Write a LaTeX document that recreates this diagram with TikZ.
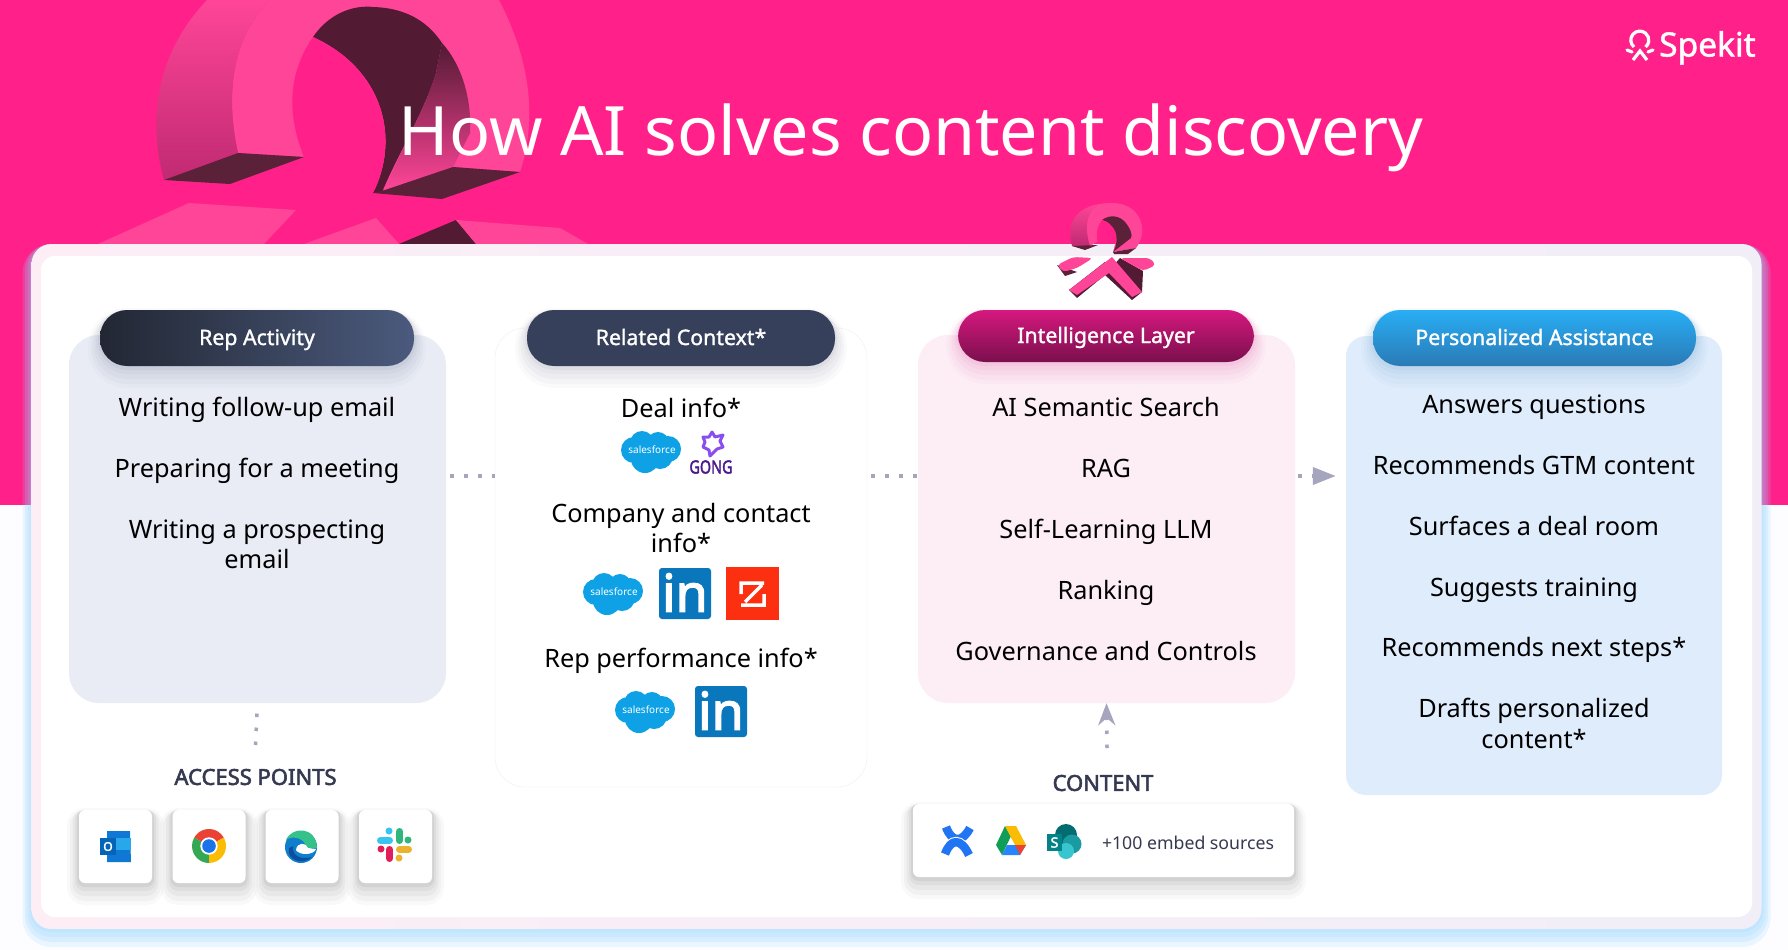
\documentclass[tikz,border=0pt]{standalone}
\usepackage{fontspec}
\setmainfont{Noto Sans}
\newfontfamily\medfont[FakeBold=1.4]{Noto Sans}
\newfontfamily\boldfam[FakeBold=2.6]{Noto Sans}
\usetikzlibrary{arrows.meta}

\definecolor{pagepink}{HTML}{FF2189}
\definecolor{logofront}{HTML}{FF4598}
\definecolor{logoshade}{HTML}{C02A72}
\definecolor{logodark}{HTML}{5A2139}
\definecolor{logoinner}{HTML}{521A33}
\definecolor{dotgray}{HTML}{A5A5BE}
\definecolor{labelgray}{HTML}{353A50}
\definecolor{sfblue}{HTML}{0EA1E5}
\definecolor{liblue}{HTML}{0A77BD}
\definecolor{pageback}{HTML}{FDFDFF}
\definecolor{cardleft}{HTML}{FDEEF6}
\definecolor{cardright}{HTML}{F1EEF8}
\definecolor{glowblue}{HTML}{8FD3FF}
\definecolor{repfill}{HTML}{E9ECF5}
\definecolor{relatedline}{HTML}{EEEEF6}
\definecolor{intelfill}{HTML}{FDEEF5}
\definecolor{assistfill}{HTML}{DFECFC}
\definecolor{repleft}{HTML}{222733}
\definecolor{repright}{HTML}{4B5A7D}
\definecolor{relatedfill}{HTML}{36405A}
\definecolor{inteltop}{HTML}{D6187F}
\definecolor{intelbottom}{HTML}{7A0F4C}
\definecolor{assisttop}{HTML}{29AEF5}
\definecolor{assistbottom}{HTML}{2A7AB5}
\definecolor{pillshade}{HTML}{3C466E}
\definecolor{gonglight}{HTML}{8A4DF0}
\definecolor{gongdark}{HTML}{4B1A8C}
\definecolor{zoomred}{HTML}{FC3010}
\definecolor{outlookback}{HTML}{0F78D4}
\definecolor{outlooklight}{HTML}{28A8EA}
\definecolor{outlookfront}{HTML}{0364B8}
\definecolor{chromered}{HTML}{EA4335}
\definecolor{chromegreen}{HTML}{34A853}
\definecolor{chromeyellow}{HTML}{FBBC05}
\definecolor{chromeblue}{HTML}{1A73E8}
\definecolor{edgeblue}{HTML}{0F7ECB}
\definecolor{edgegreen}{HTML}{35C18A}
\definecolor{edgedark}{HTML}{0B4F9E}
\definecolor{slackblue}{HTML}{36C5F0}
\definecolor{slackgreen}{HTML}{2EB67D}
\definecolor{slackyellow}{HTML}{ECB22E}
\definecolor{slackred}{HTML}{E01E5A}
\definecolor{conflblue}{HTML}{2175F3}
\definecolor{drivegreen}{HTML}{0F9D58}
\definecolor{driveblue}{HTML}{2684FC}
\definecolor{spdark}{HTML}{036C70}
\definecolor{spmid}{HTML}{1A9BA1}
\definecolor{splight}{HTML}{37C6D0}
\definecolor{spfront}{HTML}{038387}

\tikzset{
  softshadow/.style={
    preaction={draw=#1,draw opacity=.025,line width=24pt,transform canvas={yshift=-10pt}},
    preaction={draw=#1,draw opacity=.03,line width=18pt,transform canvas={yshift=-9pt}},
    preaction={draw=#1,draw opacity=.035,line width=13pt,transform canvas={yshift=-6.5pt}},
    preaction={draw=#1,draw opacity=.04,line width=8pt,transform canvas={yshift=-4pt}},
    preaction={draw=#1,draw opacity=.05,line width=4pt,transform canvas={yshift=-2pt}}},
  cardglow/.style={
    preaction={draw=#1,draw opacity=.18,line width=18pt,transform canvas={yshift=-9pt}},
    preaction={draw=#1,draw opacity=.18,line width=13pt,transform canvas={yshift=-6.5pt}},
    preaction={draw=#1,draw opacity=.18,line width=8pt,transform canvas={yshift=-4pt}},
    preaction={draw=#1,draw opacity=.18,line width=3pt,transform canvas={yshift=-1.5pt}}},
  panel/.style={inner sep=0pt,rounded corners=30pt},
  pill/.style={inner sep=0pt,rounded corners=27pt,text=white,text height=17pt,text depth=3pt,
    font=\fontsize{21.3}{24}\selectfont\medfont},
  item/.style={anchor=base,inner sep=0pt,text=black,font=\fontsize{25.3}{30}\selectfont},
  caption/.style={inner sep=0pt,text=labelgray,font=\fontsize{22}{24}\selectfont\boldfam},
  iconcard/.style={inner sep=0pt,fill=white,rounded corners=6pt,minimum width=73pt,minimum height=73pt,softshadow=black},
  dotline/.style={draw=dotgray,line width=3.5pt,dash pattern=on 3.5pt off 10.5pt},
  salescloud/.pic={
    \fill[sfblue] (-17,-2) circle (13) (-9,-9) circle (12) (7,-9) circle (11) (17,-3) circle (13)
      (-6,7) circle (14) (9,4) circle (13);
    \node[inner sep=0pt,text=white,font=\fontsize{10}{12}\selectfont] (word) at (1,-2) {salesforce};
  },
  linkedin/.pic={
    \fill[liblue,rounded corners=3pt] (-26,-25.5) rectangle (26,25.5);
    \node[inner sep=0pt,text=white,font=\fontsize{52}{52}\selectfont\boldfam] (word) at (0,-1) {in};
  }
}

\begin{document}
\begin{tikzpicture}[x=1pt,y=-1pt]
\useasboundingbox (0,0) rectangle (1788,950);

% page
\fill[pageback] (0,0) rectangle (1788,950);
\fill[pagepink] (0,0) rectangle (1788,505);

% big logo behind the title
\fill[logofront] (238,153) .. controls (222,80) and (240,30) .. (270,0) -- (499,0)
  .. controls (525,50) and (540,110) .. (520,172) -- (453,167) -- (385,190) -- (304,157) -- cycle;
\shade[top color=logofront,middle color=logofront,bottom color=logoshade] (164,180) .. controls (150,130) and (150,60) .. (207,0)
  -- (270,0) .. controls (240,30) and (222,80) .. (238,153) -- cycle;
\fill[logoinner] (313,37) .. controls (330,12) and (355,5) .. (373,7) .. controls (410,8) and (430,25) .. (442,43)
  -- (436,73) .. controls (425,110) and (400,150) .. (382,192) -- (373,193) .. controls (400,140) and (385,70) .. (313,37);
\shade[top color=logoinner,middle color=logofront,bottom color=logofront] (442,43) .. controls (462,65) and (472,100) .. (470,133)
  -- (453,167) -- (385,190) .. controls (400,150) and (425,110) .. (436,73) -- cycle;
\fill[pagepink] (313,37) .. controls (385,70) and (400,140) .. (373,193) -- (304,157) .. controls (285,110) and (290,70) .. (313,37);
\fill[logodark] (164,180) -- (238,153) -- (304,157) -- (230,184) -- cycle;
\fill[logodark] (385,190) -- (453,167) -- (520,172) -- (442,199) -- (373,193) -- cycle;
\fill[logofront] (98,244) -- (189,203) -- (296,210) -- (264,244) -- cycle;
\fill[logofront] (304,244) -- (376,218) -- (399,244) -- cycle;
\fill[logoinner] (399,244) -- (456,220) -- (476,244) -- cycle;
\fill[logofront] (456,220) -- (560,228) -- (588,244) -- (476,244) -- cycle;

% card
\node[inner sep=0pt,rounded corners=20pt,minimum width=1730pt,minimum height=685pt,
  left color=cardleft,right color=cardright,cardglow=glowblue] (card) at (896.5,586.5) {};
\node[inner sep=0pt,rounded corners=14pt,minimum width=1711pt,minimum height=661pt,fill=white] (inner) at (896.5,586.5) {};

% panels
\node[panel,fill=repfill,minimum width=377pt,minimum height=368pt] (rep) at (257.5,519) {};
\node[panel,fill=white,draw=relatedline,minimum width=372pt,minimum height=459pt] (related) at (681,557.5) {};
\node[panel,fill=intelfill,minimum width=377pt,minimum height=368pt] (intel) at (1106.5,519) {};
\node[panel,fill=assistfill,rounded corners=20pt,minimum width=376pt,minimum height=459pt] (assist) at (1534,565.5) {};

% pills
\node[pill,minimum width=314pt,minimum height=56pt,left color=repleft,right color=repright,softshadow=pillshade] (reppill) at (257,338) {Rep Activity};
\node[pill,minimum width=308pt,minimum height=56pt,fill=relatedfill,softshadow=pillshade] (relatedpill) at (681,338) {Related Context*};
\node[pill,minimum width=296pt,minimum height=52pt,top color=inteltop,bottom color=intelbottom,softshadow=inteltop] (intelpill) at (1106,336) {Intelligence Layer};
\node[pill,minimum width=323pt,minimum height=56pt,top color=assisttop,bottom color=assistbottom,softshadow=assistbottom] (assistpill) at (1534.5,338) {Personalized Assistance};

% small logo over the card
\shade[top color=logofront,bottom color=logoshade] (1072,246) .. controls (1064,215) and (1085,203) .. (1112,203)
  -- (1112,220) -- (1090,246) -- cycle;
\fill[logofront] (1090,246) .. controls (1082,220) and (1090,203) .. (1112,203) .. controls (1140,203) and (1150,230) .. (1136,248)
  -- (1113,252) -- (1100,240) -- cycle;
\fill[logodark] (1102,220) .. controls (1110,214) and (1120,216) .. (1125,222) .. controls (1130,228) and (1133,235) .. (1131,238)
  -- (1113,252) .. controls (1122,238) and (1112,222) .. (1102,220);
\fill[pagepink] (1102,220) .. controls (1112,222) and (1120,235) .. (1115,244) -- (1098,244) .. controls (1096,235) and (1096,228) .. (1102,220);
\fill[cardright] (1098,244) -- (1115,244) -- (1113,252) -- (1095,250) -- cycle;
\fill[logodark] (1072,246) -- (1098,245) -- (1085,250) -- cycle;
\fill[logodark] (1113,252) -- (1136,248) -- (1128,254) -- (1114,254) -- cycle;
\fill[logodark] (1057,265) -- (1077,272) -- (1065,276) -- cycle;
\fill[logoinner] (1120,258) -- (1143,271) -- (1142,292) -- (1132,300) -- (1105,275) -- cycle;
\fill[logofront,rounded corners=4pt] (1057,265) -- (1073,257) -- (1093,258) -- (1077,268) -- (1063,272) -- cycle;
\fill[logofront,rounded corners=4pt] (1120,258) -- (1150,258) -- (1156,265) -- (1143,271) -- cycle;
\fill[logoinner] (1069,290) -- (1105,262) -- (1105,275) -- (1077,298) -- cycle;
\fill[logofront] (1112,257) -- (1142,292) -- (1132,297) -- (1109,273) -- (1077,295) -- (1069,290) -- cycle;

% title and brand
\node[anchor=base,inner sep=0pt,text=white,font=\fontsize{68.1}{72}\selectfont] (title) at (911,155) {How AI solves content discovery};
\node[anchor=base west,inner sep=0pt,text=white,font=\fontsize{33.5}{36}\selectfont\medfont] (brand) at (1659,56.5) {Spekit};
\draw[white,line width=3.2pt] (1634,47) arc (130:410:9);
\draw[white,line width=3.2pt] (1633,60) -- (1640,51) -- (1647,60);
\draw[white,line width=3.2pt,line cap=round] (1627,50) -- (1632,52) (1648,52) -- (1653,50);

% panel texts
\foreach \i/\y/\t in {1/416/Writing follow-up email,2/477/Preparing for a meeting,3/538/Writing a prospecting,4/568/email}
    \node[item] (rep\i) at (257,\y) {\t};
\foreach \i/\y/\t in {1/417/Deal info*,2/522/Company and contact,3/552/info*,4/667/Rep performance info*}
    \node[item] (related\i) at (681,\y) {\t};
\foreach \i/\y/\t in {1/416/AI Semantic Search,2/477/RAG,3/538/Self-Learning LLM,4/599/Ranking,5/660/Governance and Controls}
    \node[item] (intel\i) at (1106,\y) {\t};
\foreach \i/\y/\t in {1/413/Answers questions,2/474/Recommends GTM content,3/535/Surfaces a deal room,4/596/Suggests training,5/656/Recommends next steps*,6/717/Drafts personalized,7/748/content*}
    \node[item] (assist\i) at (1534,\y) {\t};

% related context logos
\pic (sfa) at (651,452) {salescloud};
\pic (sfb) at (613,594) {salescloud};
\pic (sfc) at (645,712) {salescloud};
\pic (lia) at (685,593.5) {linkedin};
\pic (lib) at (721,711.5) {linkedin};
\draw[gonglight,line width=3pt,line join=round] (703,437) -- (709,437) -- (712,432) -- (715,437) -- (723,435) -- (720,441)
  -- (723,447) -- (717,449) -- (710,456) -- (709,450) -- (703,447) -- (705,442) -- cycle;
\node[inner sep=0pt,text=gongdark,xscale=.8,font=\fontsize{18}{18}\selectfont\boldfam] (gong) at (711,467) {GONG};
\fill[zoomred] (726,567) rectangle (779,620);
\draw[white,line width=3.5pt] (741,594) -- (741,583) -- (764,583) (764,594) -- (764,605) -- (741,605) (745,602) -- (762,585);

% bottom labels
\node[caption] (access) at (255.5,777) {ACCESS POINTS};
\node[caption] (content) at (1103,783) {CONTENT};

% icon cards
\foreach \i/\x in {1/115.5,2/209,3/302,4/395.5}
    \node[iconcard] (icon\i) at (\x,846.5) {};
\node[inner sep=0pt,fill=white,rounded corners=6pt,minimum width=381pt,minimum height=73pt,softshadow=black] (sources) at (1103.5,840.5) {};
\node[inner sep=0pt,text=labelgray,font=\fontsize{17.7}{20}\selectfont] (embed) at (1188,843) {+100 embed sources};

% outlook
\fill[outlookback] (107,831) -- (130,831) -- (131,862) -- (107,862) -- cycle;
\fill[outlooklight] (116,838) rectangle (131,850);
\fill[outlookfront] (100,838) rectangle (116,855);
\node[inner sep=0pt,text=white,font=\fontsize{12}{12}\selectfont\boldfam] (outlookO) at (108,846.5) {O};

% chrome
\foreach \a/\b/\c in {210/330/chromered,90/210/chromegreen,-30/90/chromeyellow}
    \fill[\c] (209,846) -- +(\a:17) arc (\a:\b:17) -- cycle;
\fill[white] (209,846) circle (8.7);
\fill[chromeblue] (209,846) circle (6.8);

% edge
\fill[edgeblue] (301,847) circle (16);
\fill[edgegreen] (286,840) .. controls (292,826) and (316,826) .. (317,848) -- (306,848) .. controls (306,838) and (292,835) .. (286,840);
\fill[white] (296,850) .. controls (297,842) and (306,842) .. (308,848) -- (316,849) .. controls (314,855) and (300,856) .. (296,850);
\fill[edgedark] (289,848) .. controls (286,860) and (303,866) .. (312,857) .. controls (300,860) and (292,856) .. (293,846) -- cycle;

% slack
\begin{scope}[line cap=round,line width=7pt]
\draw[slackblue] (380.5,840.5) -- (389.5,840.5);
\draw[slackgreen] (399.5,831.5) -- (399.5,840.5);
\draw[slackyellow] (399.5,849.5) -- (408.5,849.5);
\draw[slackred] (389.5,849.5) -- (389.5,858.5);
\end{scope}
\fill[slackblue] (389,831) circle (3.5);
\fill[slackgreen] (408,840) circle (3.5);
\fill[slackyellow] (399,858) circle (3.5);
\fill[slackred] (381,849) circle (3.5);

% confluence
\draw[conflblue,line width=8.5pt] (946,827) .. controls (952,843) and (962,843) .. (970,828);
\draw[conflblue,line width=8.5pt,preaction={draw=white,line width=10.5pt}] (945,854) .. controls (951,838) and (961,838) .. (969,855);

% drive
\fill[drivegreen] (1005,826) -- (1011,836) -- (1002,855) -- (996,845) -- cycle;
\fill[chromeyellow] (1005,826) -- (1016,826) -- (1026,845) -- (1015,845) -- cycle;
\fill[driveblue] (1002,855) -- (1020,855) -- (1026,845) -- (1007,845) -- cycle;
\fill[chromered] (1015,845) -- (1026,845) -- (1020,855) -- cycle;

% sharepoint
\fill[spdark] (1066,835) circle (11);
\fill[spmid] (1072,844) circle (9.5);
\fill[splight] (1066,851) circle (8);
\fill[spfront] (1047,834) rectangle (1062,851);
\node[inner sep=0pt,text=white,font=\fontsize{14}{14}\selectfont\boldfam] (shareS) at (1054.5,842.5) {S};

% connectors
\coordinate (linky) at (0,476);
\coordinate (accessdots) at (255.5,745);
\coordinate (contentdots) at (1107,748);
\draw[dotline] (rep.east |- linky) ++(4,0) -- (related.west |- linky);
\draw[dotline] (related.east |- linky) ++(4,0) -- (intel.west |- linky);
\draw[dotline,-{Triangle[length=23pt,width=17pt,fill=dotgray]}] (intel.east |- linky) ++(3,0) -- ([xshift=-10pt]assist.west |- linky);
\draw[dotline] (accessdots) -- (rep.south);
\draw[dotline,-{Stealth[length=22pt,width=17pt,fill=dotgray]}] (contentdots) -- (intel.south);

\end{tikzpicture}
\end{document}
